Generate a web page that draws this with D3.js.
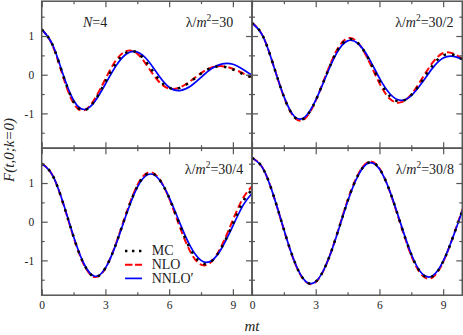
<!DOCTYPE html>
<html>
<head>
<meta charset="utf-8">
<script src="https://cdn.jsdelivr.net/npm/d3@7"></script>
<style>
  body { margin: 0; background: #fff; }
  svg { display: block; }
  text { font-family: "Liberation Serif", "Times New Roman", serif; fill: #222; }
</style>
</head>
<body>
<svg id="chart" width="463" height="335"></svg>
<script>
// mt values, sampled every 0.5
const times = [0, 0.5, 1, 1.5, 2, 2.5, 3, 3.5, 4, 4.5, 5, 5.5, 6, 6.5, 7, 7.5, 8, 8.5, 9, 9.5, 10];

const couplings = ["30", "30/2", "30/4", "30/8"];
const seriesNames = ["MC", "NLO", "NNLO\u2032"];

// lambda/m^2 = 30
const mc30   = [1.17, 0.78, 0.0, -0.695, -0.92, -0.67, -0.18, 0.30, 0.58, 0.565, 0.27, -0.11, -0.34, -0.34, -0.18, 0.03, 0.18, 0.21, 0.135, 0.01, -0.09];
const nlo30  = [1.17, 0.77, -0.04, -0.74, -0.92, -0.625, -0.11, 0.375, 0.615, 0.545, 0.20, -0.17, -0.36, -0.33, -0.165, 0.04, 0.185, 0.22, 0.155, 0.03, -0.08];
const nnlo30 = [1.17, 0.79, 0.02, -0.66, -0.90, -0.69, -0.24, 0.23, 0.54, 0.585, 0.365, -0.015, -0.325, -0.41, -0.30, -0.07, 0.16, 0.28, 0.27, 0.13, -0.05];

// lambda/m^2 = 30/2
const mc15   = [1.34, 1.01, 0.26, -0.565, -1.095, -1.11, -0.665, 0.0, 0.605, 0.91, 0.81, 0.39, -0.155, -0.565, -0.69, -0.525, -0.16, 0.24, 0.495, 0.51, 0.36];
const nlo15  = [1.34, 1.01, 0.26, -0.57, -1.11, -1.13, -0.67, 0.02, 0.64, 0.94, 0.82, 0.355, -0.22, -0.63, -0.715, -0.51, -0.105, 0.31, 0.56, 0.54, 0.37];
const nnlo15 = [1.34, 1.01, 0.26, -0.56, -1.08, -1.09, -0.66, -0.02, 0.57, 0.875, 0.80, 0.43, -0.09, -0.50, -0.665, -0.54, -0.21, 0.17, 0.43, 0.475, 0.37];

// lambda/m^2 = 30/4
const mc75   = [1.50, 1.21, 0.495, -0.39, -1.11, -1.42, -1.20, -0.57, 0.23, 0.91, 1.245, 1.12, 0.615, -0.08, -0.71, -1.06, -1.02, -0.635, -0.05, 0.54, 0.88];
const nlo75  = [1.50, 1.21, 0.49, -0.40, -1.125, -1.43, -1.20, -0.56, 0.25, 0.94, 1.27, 1.135, 0.60, -0.13, -0.78, -1.11, -1.03, -0.59, 0.045, 0.63, 0.965];
const nnlo75 = [1.50, 1.21, 0.50, -0.38, -1.10, -1.41, -1.20, -0.58, 0.21, 0.89, 1.22, 1.11, 0.63, -0.03, -0.64, -1.00, -1.01, -0.66, -0.11, 0.44, 0.80];

// lambda/m^2 = 30/8
const mc375   = [1.65, 1.39, 0.70, -0.20, -1.03, -1.53, -1.55, -1.10, -0.33, 0.53, 1.21, 1.53, 1.37, 0.77, -0.06, -0.85, -1.35, -1.41, -1.03, -0.34, 0.44];
const nlo375  = [1.65, 1.39, 0.70, -0.21, -1.04, -1.54, -1.56, -1.10, -0.32, 0.55, 1.23, 1.55, 1.38, 0.76, -0.08, -0.88, -1.38, -1.44, -1.04, -0.33, 0.46];
const nnlo375 = [1.65, 1.39, 0.70, -0.20, -1.03, -1.53, -1.55, -1.10, -0.34, 0.52, 1.20, 1.52, 1.36, 0.77, -0.05, -0.84, -1.34, -1.40, -1.02, -0.34, 0.44];

const xMajor = [0, 3, 6, 9], xMinor = [1.5, 4.5, 7.5];
const yMajor = [-1, 0, 1], yMinor = [-1.5, -0.5, 0.5, 1.5];

// layout
const padLeft = 41.7, padTop = 1.2, pw = 210.3, ph = 147;
const styles = [
  {color: "#000", width: 2.5, dash: "2.5,6.2", legDash: "2.4,4.6"},
  {color: "#ff0000", width: 2, dash: "7,3.5", legDash: "7.5,2.5"},
  {color: "#0000ff", width: 1.7, dash: null, legDash: null}
];

const panels = [
  {col: 0, row: 0, lam: couplings[0], data: [mc30, nlo30, nnlo30], labelX: 191.5},
  {col: 1, row: 0, lam: couplings[1], data: [mc15, nlo15, nnlo15], labelX: 201.5},
  {col: 0, row: 1, lam: couplings[2], data: [mc75, nlo75, nnlo75], labelX: 201.5},
  {col: 1, row: 1, lam: couplings[3], data: [mc375, nlo375, nnlo375], labelX: 202}
];

const svg = d3.select("#chart");
const x = d3.scaleLinear().domain([0, 9.9]).range([0, pw]);
const y = d3.scaleLinear().domain([-1.9, 1.9]).range([ph, 0]);
const fmt = d => d < 0 ? "-" + Math.abs(d) : String(d);

const line = d3.line()
  .x((d, i) => x(times[i]))
  .y(d => y(d))
  .curve(d3.curveNatural);

// draw the series in order NLO, NNLO', MC (dots on top)
const drawOrder = [1, 2, 0];

panels.forEach(function (p, k) {
  const g = svg.append("g")
    .attr("transform", "translate(" + (padLeft + p.col * pw) + "," + (padTop + p.row * ph) + ")");

  g.append("clipPath").attr("id", "clip" + k)
    .append("rect").attr("width", pw).attr("height", ph);

  const plot = g.append("g").attr("clip-path", "url(#clip" + k + ")");
  drawOrder.forEach(function (s) {
    plot.append("path")
      .attr("d", line(p.data[s]))
      .attr("fill", "none")
      .attr("stroke", styles[s].color)
      .attr("stroke-width", styles[s].width)
      .attr("stroke-dasharray", styles[s].dash);
  });

  // ticks on all four sides, pointing inward
  function ticks(axis, tx, ty, vals, size, labels) {
    const a = g.append("g")
      .attr("transform", "translate(" + tx + "," + ty + ")")
      .call(axis.tickValues(vals).tickSizeInner(-size).tickSizeOuter(0)
        .tickFormat(labels ? fmt : ""));
    a.select(".domain").remove();
    a.selectAll("line").attr("stroke", "#555").attr("stroke-width", 1.2);
    a.selectAll("text").attr("font-size", 11.5).attr("fill", "#333")
      .style("font-family", "'Liberation Serif', serif");
    return a;
  }
  ticks(d3.axisBottom(x).tickPadding(6), 0, ph, xMajor, 6, p.row === 1);
  ticks(d3.axisBottom(x), 0, ph, xMinor, 3, false);
  ticks(d3.axisTop(x), 0, 0, xMajor, 6, false);
  ticks(d3.axisTop(x), 0, 0, xMinor, 3, false);
  ticks(d3.axisLeft(y).tickPadding(7.5), 0, 0, yMajor, 6, p.col === 0);
  ticks(d3.axisLeft(y), 0, 0, yMinor, 3, false);
  ticks(d3.axisRight(y), pw, 0, yMajor, 6, false);
  ticks(d3.axisRight(y), pw, 0, yMinor, 3, false);

  g.append("rect").attr("width", pw).attr("height", ph)
    .attr("fill", "none").attr("stroke", "#555").attr("stroke-width", 1.5);

  // coupling label
  const lab = g.append("text")
    .attr("x", p.labelX).attr("y", 25.5)
    .attr("text-anchor", "end")
    .attr("font-size", 14);
  lab.append("tspan").text("\u03bb/");
  lab.append("tspan").attr("font-style", "italic").text("m");
  lab.append("tspan").attr("dy", -5.5).attr("font-size", 9.5).text("2");
  lab.append("tspan").attr("dy", 5.5).text("=" + p.lam);

  if (k === 0) {
    const n = g.append("text").attr("x", 41.3).attr("y", 25.5).attr("font-size", 14);
    n.append("tspan").attr("font-style", "italic").text("N");
    n.append("tspan").text("=4");
  }

  if (k === 2) {
    const leg = g.append("g").attr("transform", "translate(83.3,102.8)");
    [0, 1, 2].forEach(function (s) {
      const r = leg.append("g").attr("transform", "translate(0," + (s * 13.7) + ")");
      r.append("line").attr("x1", 0).attr("x2", 17).attr("y1", 0).attr("y2", 0)
        .attr("stroke", styles[s].color)
        .attr("stroke-width", styles[s].width)
        .attr("stroke-dasharray", styles[s].legDash);
      r.append("text").attr("x", 26.7).attr("y", 4.2).attr("font-size", 14)
        .text(seriesNames[s]);
    });
  }
});

// axis titles
svg.append("text")
  .attr("x", 252).attr("y", 331)
  .attr("text-anchor", "middle")
  .attr("font-size", 15).attr("font-style", "italic")
  .text("mt");

svg.append("text")
  .attr("transform", "translate(14,150) rotate(-90)")
  .attr("text-anchor", "middle")
  .attr("font-size", 15).attr("font-style", "italic")
  .text("F(t,0;k=0)");
</script>
</body>
</html>
